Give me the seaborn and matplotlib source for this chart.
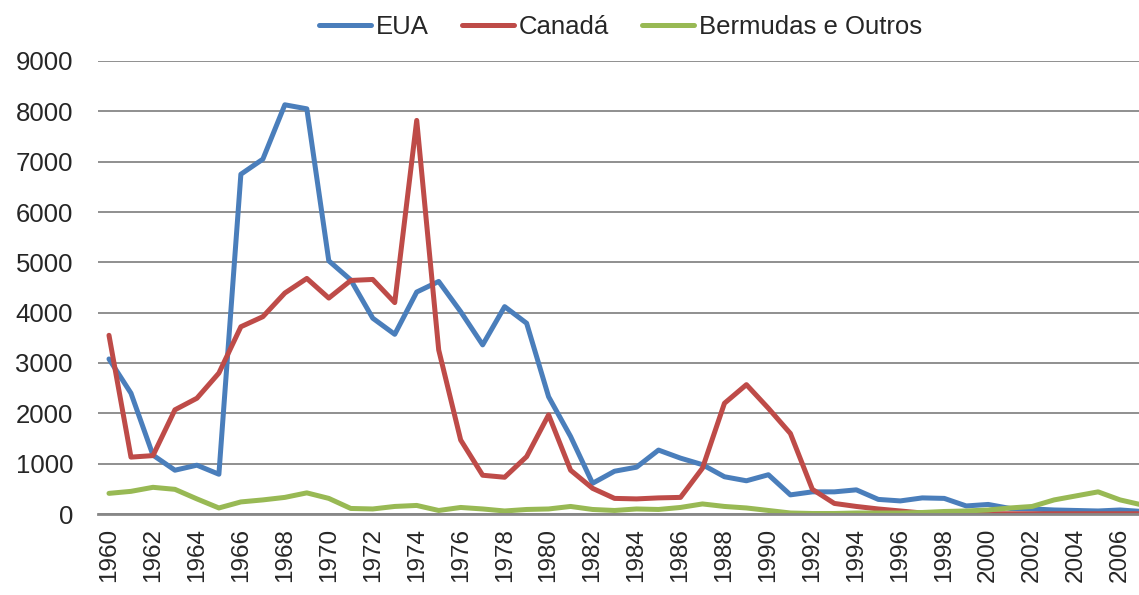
import matplotlib
matplotlib.use("Agg")
import matplotlib.pyplot as plt
import numpy as np
import pandas as pd
import seaborn as sns

years = list(range(1960, 2008))

eua = [3080, 2400, 1170, 870, 970, 790, 6750, 7050, 8130, 8050,
       5030, 4650, 3890, 3570, 4410, 4620, 4020, 3360, 4120, 3790,
       2330, 1540, 610, 850, 930, 1270, 1110, 980, 740, 660,
       780, 380, 440, 440, 480, 290, 260, 320, 310, 160,
       190, 110, 100, 80, 70, 60, 80, 50]

canada = [3550, 1130, 1160, 2070, 2300, 2800, 3720, 3920, 4390, 4680,
          4290, 4640, 4660, 4200, 7820, 3260, 1470, 770, 730, 1140,
          1970, 870, 510, 310, 300, 320, 330, 910, 2200, 2570,
          2100, 1600, 490, 210, 150, 100, 60, 20, 10, 5,
          5, 5, 5, 5, 5, 5, 5, 5]

bermudas = [410, 450, 530, 490, 300, 120, 240, 280, 330, 420,
            310, 110, 100, 150, 170, 70, 130, 100, 60, 90,
            100, 150, 90, 70, 100, 90, 130, 200, 150, 120,
            70, 20, 10, 10, 20, 20, 20, 30, 50, 60,
            80, 120, 150, 280, 360, 440, 280, 180]

series_names = ["EUA", "Canadá", "Bermudas e Outros"]
colors = ["#4A7EBB", "#BE4B48", "#98B954"]

df = pd.DataFrame({"ano": years, "EUA": eua, "Canadá": canada, "Bermudas e Outros": bermudas})
long_df = df.melt(id_vars="ano", var_name="serie", value_name="valor")

sns.set_style("white")
plt.rcParams["font.family"] = ["Liberation Sans", "DejaVu Sans"]

fig = plt.figure(figsize=(11.39, 5.95), dpi=100)
ax = fig.add_axes([98 / 1139, 1 - 514 / 595, 1 - 98 / 1139, (514 - 61) / 595])

sns.lineplot(data=long_df, x="ano", y="valor", hue="serie", hue_order=series_names,
             palette=colors, linewidth=3.6, ax=ax, legend=False)

ax.set_ylim(0, 9000)
ax.set_xlim(1959.5, 2006.86)
ax.set_yticks(range(0, 9001, 1000))
ax.set_xticks(range(1960, 2007, 2))
ax.set_xticklabels([str(y) for y in range(1960, 2007, 2)], rotation=90)
ax.yaxis.grid(True, color="#878787", linewidth=1.3)
ax.set_axisbelow(True)
ax.tick_params(axis="y", length=0, pad=18, labelsize=18.5)
ax.tick_params(axis="x", length=0, pad=10, labelsize=17.5)
ax.set_xlabel("")
ax.set_ylabel("")
for side in ["left", "right", "top"]:
    ax.spines[side].set_visible(False)
ax.spines["bottom"].set_color("#878787")
ax.spines["bottom"].set_linewidth(2)

handles = [plt.Line2D([], [], color=c, linewidth=3.6, solid_capstyle="round") for c in colors]
ax.legend(handles, series_names, loc="center", bbox_to_anchor=(0.545, 0.955),
          bbox_transform=fig.transFigure, ncol=3, frameon=False, fontsize=18.5,
          handlelength=2.0, handletextpad=0.2, columnspacing=1.3)

fig.savefig("out.png", dpi=100)
